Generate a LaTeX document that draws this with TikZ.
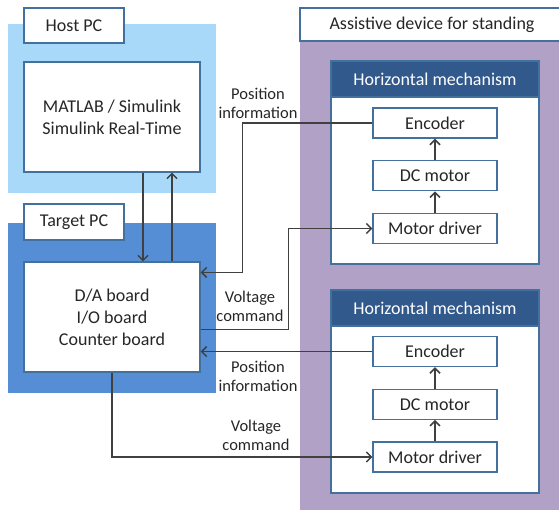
\documentclass[tikz,border=0pt]{standalone}
\usepackage{fontspec}
\setmainfont{Carlito}
\usetikzlibrary{arrows.meta,positioning}
\usetikzlibrary{calc}
\definecolor{host_blue}{HTML}{A9D9F8}
\definecolor{target_blue}{HTML}{558ED5}
\definecolor{device_purple}{HTML}{B2A1C7}
\definecolor{head_blue}{HTML}{31598C}
\definecolor{edge_blue}{HTML}{41719C}
\definecolor{wire_gray}{HTML}{404040}

\begin{document}
\begin{tikzpicture}[
	    x=1pt, y=-1pt,
	    region/.style={rectangle, inner sep=0, draw=none},
	    titlebox/.style={rectangle, fill=white, draw=edge_blue, line width=1.2pt, inner sep=0, text=black!85, font=\fontsize{18}{22}\selectfont},
	    box/.style={titlebox, align=center},
	    partbox/.style={titlebox, minimum width=124pt, minimum height=30pt},
	    headbox/.style={rectangle, fill=head_blue, draw=edge_blue, line width=1.2pt, inner sep=0, text=white, font=\fontsize{18}{22}\selectfont, minimum width=208pt, minimum height=36pt},
	    onlytext/.style={align=center, inner sep=0, text=black!85, font=\fontsize{16.5}{19}\selectfont},
	    normalline/.style={-{Straight Barb[length=5pt, width=10pt]}, draw=wire_gray, line width=1.5pt},
	]
	\clip (0,0) rectangle (559,510);

	% ------------ Host PC
	\node[region, fill=host_blue, minimum width=208pt, minimum height=169pt] (hostbg) at (112,108.5) {};
	\node[titlebox, minimum width=100pt, minimum height=35pt] (hostlabel) at (74,25.5) {Host PC};
	\node[box, minimum width=176pt, minimum height=110pt] (matlab) at (112,117) {MATLAB / Simulink\\Simulink Real-Time};

	% ------------ Target PC
	\node[region, fill=target_blue, minimum width=208pt, minimum height=170pt] (targetbg) at (112,308) {};
	\node[titlebox, minimum width=100pt, minimum height=36pt] (targetlabel) at (74,222) {Target PC};
	\node[box, minimum width=176pt, minimum height=110pt] (board) at (112,317) {D/A board\\I/O board\\Counter board};

	\coordinate (downtop) at ([xshift=31pt]matlab.south);
	\coordinate (upbottom) at ([xshift=60pt]board.north);
	\draw [normalline] (downtop) -- (downtop |- board.north);
	\draw [normalline] (upbottom) -- (upbottom |- matlab.south);

	% ------------ Assistive device
	\node[region, fill=device_purple, minimum width=266pt, minimum height=496pt] (devicebg) at (433,272) {};
	\node[titlebox, minimum width=266pt, minimum height=33pt] (devicelabel) at (433,24.5) {};
	\node[onlytext, font=\fontsize{18}{22}\selectfont] (devicetext) at (432,24.5) {Assistive device for standing};

	% upper mechanism
	\node[titlebox, minimum width=208pt, minimum height=203pt] (mechA) at (435,162.5) {};
	\node[headbox] (headA) at (435,79) {Horizontal mechanism};
	\node[partbox] (drvA) at (435,228.5) {Motor driver};
	\node[partbox, above=21.5pt of drvA] (dcA) {DC motor};
	\node[partbox, above=21.5pt of dcA] (encA) {Encoder};
	\draw [normalline] (drvA) -- (dcA);
	\draw [normalline] (dcA) -- (encA);

	% lower mechanism
	\node[titlebox, minimum width=208pt, minimum height=203pt] (mechB) at (435,391.5) {};
	\node[headbox] (headB) at (435,308) {Horizontal mechanism};
	\node[partbox] (drvB) at (435,457) {Motor driver};
	\node[partbox, above=21.5pt of drvB] (dcB) {DC motor};
	\node[partbox, above=21.5pt of dcB] (encB) {Encoder};
	\draw [normalline] (drvB) -- (dcB);
	\draw [normalline] (dcB) -- (encB);

	% ------------ signals between target PC and device
	\draw [normalline] (encA.west) -- ++(-130,0) |- ([yshift=-11pt]board.north east);
	\draw [normalline] ([yshift=-68pt]board.north east) -- ++(88,0) |- (drvA.west);
	\draw [normalline] (encB.west) -- (encB.west -| board.east);
	\draw [normalline] (board.south) |- (drvB.west);

	\node[onlytext] (posA) at (258,103) {Position\\information};
	\node[onlytext] (voltA) at (250,306) {Voltage\\command};
	\node[onlytext] (posB) at (258,376) {Position\\information};
	\node[onlytext] (voltB) at (256,435) {Voltage\\command};
\end{tikzpicture}
\end{document}
